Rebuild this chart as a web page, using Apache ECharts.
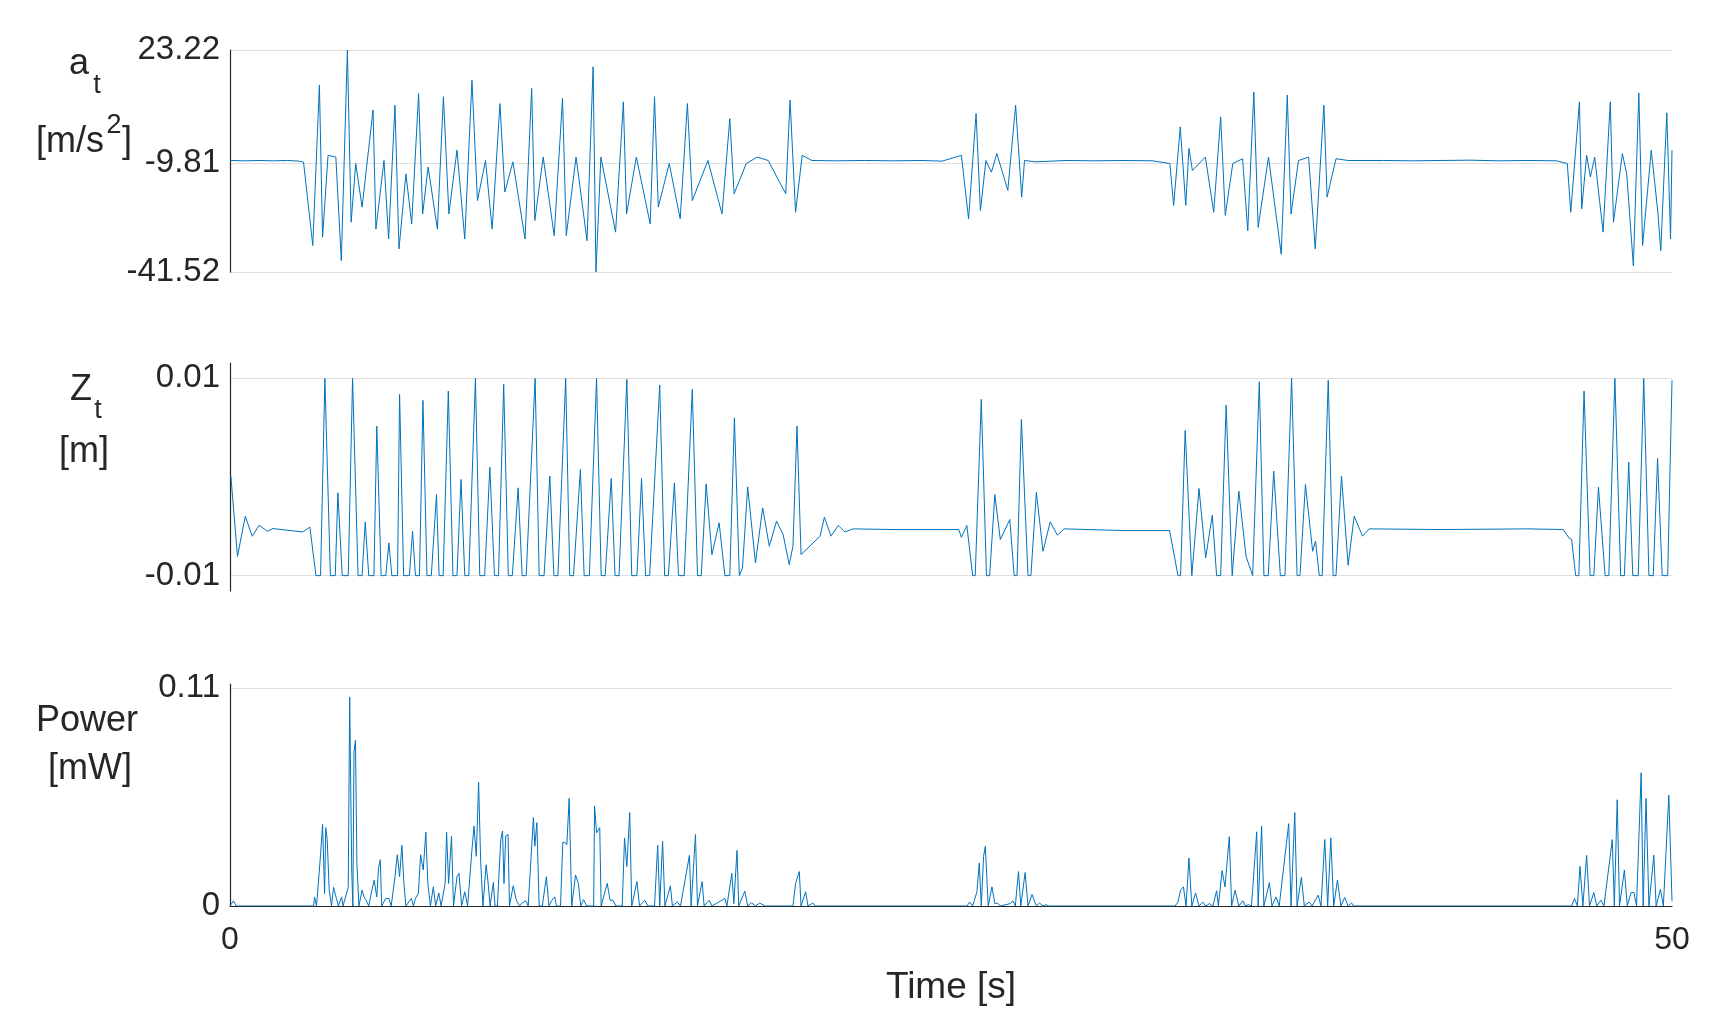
<!DOCTYPE html>
<html><head><meta charset="utf-8">
<script src="https://cdn.jsdelivr.net/npm/echarts@6/dist/echarts.min.js"></script>
<style>html,body{margin:0;padding:0;background:#fff}#c{width:1720px;height:1030px}</style>
</head><body><div id="c"></div>
<script>
const accData = [[0,-9.0],[0.5,-9.1],[1,-9.0],[1.5,-9.1],[2,-9.0],[2.4,-9.2],[2.55,-9.5],
[2.87,-33.8],[3.10,13.0],[3.21,-31.4],[3.40,-7.5],[3.67,-8.0],[3.86,-38.2],[4.07,23.2],[4.20,-27.0],[4.36,-9.9],[4.58,-22.6],[4.96,5.7],[5.06,-29.0],[5.34,-9.0],[5.50,-31.9],[5.72,7.1],[5.86,-34.8],[6.10,-12.9],[6.30,-27.5],[6.54,10.5],[6.68,-24.6],[6.87,-10.9],[7.19,-29.0],[7.40,9.6],[7.59,-24.6],[7.87,-6.0],[8.14,-31.9],[8.39,14.4],[8.58,-20.7],[8.86,-9.0],[9.09,-29.0],[9.36,7.6],[9.53,-18.2],[9.81,-9.4],[10.23,-31.9],[10.46,12.0],[10.57,-26.5],[10.86,-8.0],[11.24,-30.9],[11.53,9.1],[11.66,-30.9],[12.00,-8.0],[12.38,-32.4],[12.59,18.3],[12.69,-41.5],[12.86,-8.0],[13.37,-29.9],[13.64,8.1],[13.75,-24.6],[14.09,-8.0],[14.57,-27.5],[14.72,9.6],[14.85,-22.6],[15.23,-9.9],[15.61,-26.0],[15.86,7.6],[16.03,-20.7],[16.57,-9.0],[17.06,-24.6],[17.33,3.2],[17.48,-18.7],[17.90,-9.9],[18.28,-8.0],[18.66,-9.0],[19.27,-18.7],[19.42,8.6],[19.61,-24.1],[19.84,-7.5],[20.18,-9.0],
[21,-9.1],[22,-9.0],[23,-9.1],[24,-9.0],[24.69,-9.2],[25.36,-7.5],[25.61,-26.0],[25.87,4.7],[26.02,-23.6],[26.21,-9.0],[26.40,-12.4],[26.59,-7.0],[26.97,-17.7],[27.24,7.1],[27.36,-8.0],[27.45,-19.7],[27.55,-9.0],[27.93,-9.4],
[29,-9.0],[30,-9.1],[31,-9.0],[32,-9.1],[32.59,-9.9],[32.72,-22.1],[32.95,0.8],[33.14,-22.1],[33.25,-5.5],[33.37,-11.9],[33.82,-8.0],[34.11,-24.1],[34.35,3.7],[34.51,-25.0],[34.77,-9.9],[35.11,-8.5],[35.29,-29.5],[35.50,11.0],[35.65,-28.5],[36.01,-8.0],[36.45,-36.3],[36.66,10.1],[36.79,-24.6],[37.05,-9.0],[37.40,-8.0],[37.63,-34.8],[37.93,7.1],[38.04,-19.7],[38.35,-8.5],[38.77,-9.0],
[40,-9.0],[41,-9.1],[42,-9.0],[43,-8.9],[44,-9.1],[45,-9.0],[46,-9.1],[46.37,-9.9],[46.49,-24.1],[46.79,8.1],[46.87,-23.1],[47.04,-7.5],[47.17,-13.8],[47.32,-8.0],[47.61,-29.9],[47.86,8.1],[47.97,-27.0],[48.28,-7.0],[48.43,-12.9],[48.66,-39.7],[48.85,10.7],[48.98,-33.8],[49.28,-6.0],[49.51,-24.1],[49.61,-35.3],[49.82,4.9],[49.95,-31.9],[50.0,-6.0]];

const zData = [[0.03,0.0001],[0.12,-0.00313],[0.26,-0.00804],[0.53,-0.00398],[0.77,-0.00601],[1.01,-0.00489],[1.29,-0.0055],[1.49,-0.00523],[2.52,-0.00557],[2.77,-0.00509],[2.98,-0.01],[3.14,-0.01],[3.29,0.01],[3.48,-0.01],[3.65,-0.01],[3.74,-0.00161],[3.89,-0.01],[4.10,-0.01],[4.25,0.01],[4.44,-0.01],[4.58,-0.01],[4.69,-0.00455],[4.81,-0.01],[4.99,-0.01],[5.09,0.00516],[5.24,-0.01],[5.40,-0.01],[5.51,-0.00668],[5.61,-0.01],[5.81,-0.01],[5.88,0.00838],[6.02,-0.01],[6.22,-0.01],[6.33,-0.0055],[6.43,-0.01],[6.57,-0.01],[6.69,0.00777],[6.83,-0.01],[6.98,-0.01],[7.16,-0.00178],[7.25,-0.01],[7.39,-0.01],[7.57,0.00871],[7.73,-0.01],[7.87,-0.01],[8.01,-0.00025],[8.14,-0.01],[8.28,-0.01],[8.51,0.01],[8.66,-0.01],[8.83,-0.01],[9.01,0.001],[9.17,-0.01],[9.31,-0.01],[9.49,0.00939],[9.65,-0.01],[9.79,-0.01],[9.99,-0.0011],[10.13,-0.01],[10.27,-0.01],[10.58,0.01],[10.72,-0.01],[10.89,-0.01],[11.09,0.0001],[11.23,-0.01],[11.37,-0.01],[11.64,0.01],[11.78,-0.01],[11.91,-0.01],[12.15,0.00076],[12.28,-0.01],[12.46,-0.01],[12.71,0.01],[12.87,-0.01],[13.01,-0.01],[13.22,-0.00015],[13.35,-0.01],[13.49,-0.01],[13.76,0.0099],[13.93,-0.01],[14.11,-0.01],[14.27,-0.00015],[14.41,-0.01],[14.55,-0.01],[14.90,0.00932],[15.07,-0.01],[15.20,-0.01],[15.41,-0.00059],[15.55,-0.01],[15.75,-0.01],[16.03,0.00888],[16.21,-0.01],[16.34,-0.01],[16.51,-0.00069],[16.71,-0.00787],[16.96,-0.00465],[17.16,-0.01],[17.33,-0.01],[17.49,0.006],[17.66,-0.01],[17.77,-0.00922],[17.95,-0.001],[18.22,-0.00871],[18.47,-0.00313],[18.70,-0.00702],[18.95,-0.00448],[19.18,-0.00584],[19.39,-0.00888],[19.52,-0.00702],[19.66,0.00516],[19.80,-0.00787],
[20.46,-0.006],[20.61,-0.00408],[20.84,-0.006],[21.09,-0.00492],[21.32,-0.00557],[21.61,-0.00526],[23,-0.00533],[25.27,-0.00533],[25.36,-0.00611],[25.55,-0.00492],[25.75,-0.01],[25.84,-0.01],[26.05,0.00787],[26.23,-0.01],[26.34,-0.01],[26.52,-0.00178],[26.71,-0.00634],[27.04,-0.00431],[27.19,-0.01],[27.29,-0.01],[27.44,0.00584],[27.67,-0.01],[27.77,-0.01],[27.96,-0.00154],[28.19,-0.00753],[28.44,-0.00455],[28.69,-0.0059],[28.92,-0.00526],[31,-0.00543],[32.58,-0.00543],[32.87,-0.01],[32.96,-0.01],[33.12,0.00472],[33.35,-0.01],[33.60,-0.00117],[33.83,-0.00821],[34.06,-0.00387],[34.21,-0.01],[34.35,-0.01],[34.54,0.00729],[34.75,-0.01],[34.98,-0.00144],[35.23,-0.00804],[35.46,-0.01],[35.69,0.00966],[35.85,-0.01],[36.0,-0.01],[36.19,0.00059],[36.42,-0.01],[36.58,-0.01],[36.81,0.01],[37.0,-0.01],[37.10,-0.01],[37.29,-0.00076],[37.54,-0.00753],[37.64,-0.00651],[37.77,-0.01],[37.87,-0.01],[38.08,0.0098],[38.25,-0.01],[38.35,-0.01],[38.54,0.0001],[38.77,-0.00895],[38.98,-0.00398],[39.27,-0.006],[39.50,-0.00526],[42,-0.00533],[45,-0.00526],[46.23,-0.00533],[46.43,-0.00618],[46.52,-0.00634],[46.66,-0.01],[46.77,-0.01],[46.95,0.00871],[47.16,-0.01],[47.29,-0.01],[47.45,-0.00103],[47.68,-0.01],[47.81,-0.01],[48.02,0.01],[48.22,-0.01],[48.35,-0.01],[48.50,0.00151],[48.64,-0.01],[48.83,-0.01],[49.02,0.01],[49.20,-0.01],[49.35,-0.01],[49.50,0.00188],[49.66,-0.01],[49.85,-0.01],[50.0,0.0098]];

const powerData = [[0,0],[0.12,0.0026],[0.22,0],[2.9,0],[2.93,0.0046],[3.00,0],[3.14,0.0259],[3.21,0.0413],[3.28,0.0063],[3.32,0.0396],[3.37,0.0336],[3.44,0.008],[3.52,0],[3.59,0.0094],[3.69,0.0038],[3.76,0],[3.87,0.0046],[3.92,0],[4.10,0.0094],[4.15,0.1055],[4.22,0.0182],[4.26,0],[4.30,0.0779],[4.35,0.0839],[4.40,0.0217],[4.47,0],[4.58,0.008],[4.65,0.0046],[4.72,0.0029],[4.81,0],[4.92,0.008],[5.00,0.0131],[5.09,0.0046],[5.15,0.0191],[5.21,0.0234],[5.26,0],[5.40,0.0038],[5.51,0.0038],[5.59,0],[5.72,0.0148],[5.80,0.0259],[5.88,0.0148],[5.96,0.0307],[6.03,0.0114],[6.10,0],[6.29,0.0038],[6.36,0],[6.43,0.0038],[6.53,0.0063],[6.61,0.0259],[6.70,0.0182],[6.79,0.0373],[6.86,0.0114],[6.95,0],[7.05,0.0097],[7.13,0],[7.24,0.0066],[7.32,0],[7.46,0.0114],[7.51,0.0373],[7.58,0.0114],[7.68,0.0353],[7.75,0],[7.87,0.0148],[7.94,0.0165],[8.03,0],[8.14,0.0072],[8.24,0],[8.38,0.0268],[8.46,0.0404],[8.54,0.0251],[8.62,0.0626],[8.69,0.0234],[8.77,0],[8.88,0.0208],[8.94,0.0131],[9.02,0],[9.13,0.0119],[9.19,0],[9.27,0],[9.39,0.0336],[9.45,0.0379],[9.50,0.0114],[9.56,0.0353],[9.64,0.0361],[9.69,0],[9.82,0.0102],[9.93,0.0029],[10.04,0],[10.13,0.0015],[10.26,0.0026],[10.34,0],[10.52,0.0447],[10.57,0.0302],[10.64,0.0421],[10.72,0],[10.83,0],[10.97,0.0148],[11.06,0],[11.16,0.0029],[11.26,0.0046],[11.32,0],[11.46,0],[11.54,0.0322],[11.61,0.0322],[11.68,0.031],[11.76,0.0544],[11.85,0],[11.98,0.0157],[12.08,0.0114],[12.16,0],[12.26,0.0032],[12.37,0],[12.61,0],[12.64,0.0506],[12.71,0.037],[12.82,0.0396],[12.87,0],[13.08,0.0114],[13.18,0.0029],[13.28,0.0029],[13.38,0],[13.60,0],[13.68,0.0344],[13.76,0.02],[13.86,0.0472],[13.93,0],[14.11,0.0123],[14.20,0],[14.38,0.0029],[14.49,0],[14.72,0],[14.83,0.0307],[14.90,0],[15.00,0.0327],[15.08,0],[15.27,0.0102],[15.34,0],[15.51,0.002],[15.62,0],[15.93,0.0256],[15.99,0],[16.14,0.0361],[16.21,0],[16.37,0.0123],[16.44,0],[16.62,0.0029],[16.71,0],[17.16,0.0038],[17.23,0],[17.40,0.0165],[17.47,0.0012],[17.58,0.0281],[17.64,0],[17.85,0.0075],[17.95,0],[18.08,0.0017],[18.22,0],[18.36,0.0015],[18.56,0],[19.52,0],[19.61,0.0114],[19.74,0.0174],[19.80,0],[19.96,0.0072],[20.04,0],[20.21,0.0015],[20.29,0],
[25.55,0],[25.65,0.002],[25.75,0],[25.90,0.0072],[25.98,0.0217],[26.05,0],[26.13,0.0251],[26.19,0.0302],[26.29,0],[26.42,0.0097],[26.52,0.0012],[26.61,0.0015],[26.71,0],[27.05,0.0012],[27.15,0.0026],[27.23,0],[27.34,0.0174],[27.42,0],[27.57,0.0169],[27.67,0],[27.81,0.0058],[27.86,0.0058],[27.96,0],[28.07,0.0015],[28.19,0],[28.31,0.0007],[28.38,0],
[32.77,0],[32.87,0.002],[32.96,0.008],[33.06,0.0097],[33.15,0],[33.25,0.0242],[33.35,0],[33.48,0.0066],[33.60,0],[33.73,0.002],[33.83,0],[33.96,0.0012],[34.08,0],[34.21,0.0077],[34.27,0],[34.40,0.0179],[34.50,0.0097],[34.65,0.035],[34.73,0],[34.85,0.0080],[34.98,0],[35.12,0.0026],[35.21,0],[35.31,0.0007],[35.42,0],[35.60,0.0375],[35.65,0],[35.77,0.0404],[35.85,0],[36.04,0.0118],[36.13,0],[36.27,0.0046],[36.38,0],[36.71,0.0416],[36.79,0],[36.92,0.0472],[37.0,0],[37.15,0.0145],[37.25,0],[37.42,0.002],[37.52,0],[37.73,0.0055],[37.83,0],[37.96,0.0336],[38.06,0],[38.17,0.0344],[38.27,0],[38.40,0.0131],[38.52,0],[38.65,0.0043],[38.77,0],[38.89,0.0015],[38.96,0],
[46.52,0],[46.62,0.0038],[46.72,0],[46.81,0.02],[46.91,0],[47.04,0.0256],[47.14,0],[47.29,0.0068],[47.39,0],[47.54,0.0029],[47.64,0],[47.93,0.0336],[48.0,0],[48.10,0.0537],[48.18,0],[48.35,0.0182],[48.45,0],[48.58,0.0068],[48.68,0.0068],[48.77,0],[48.93,0.0673],[49.0,0],[49.10,0.0544],[49.20,0],[49.37,0.0257],[49.45,0],[49.60,0.0084],[49.70,0],[49.89,0.0561],[50.0,0.0026]];

const accTicks = [-41.52, -9.81, 23.22];
const zTicks = [-0.01, 0.01];
const powerTicks = [0, 0.11];
const timeTicks = [0, 50];

const FONT = 'Liberation Sans';
const TXT = '#262626';
const BLUE = '#0072BD';
const fmt = v => v === 0 ? '0' : v.toFixed(2);

const grids = [
  {left: 230, right: 48, top: 50, height: 222},
  {left: 230, right: 48, top: 363, height: 228},
  {left: 230, right: 48, top: 684, height: 222}
];
const yRanges = [[-41.52, 23.22], [-0.01156, 0.01156], [0, 0.1122]];
const yTicks = [accTicks, zTicks, powerTicks];

function t(text, x, y, size) {
  return {type: 'text', x: x, y: y, style: {text: text, fill: TXT, font: size + 'px ' + FONT, textAlign: 'center', textVerticalAlign: 'middle'}};
}

const chart = echarts.init(document.getElementById('c'), null, {renderer: 'canvas'});
chart.setOption({
  animation: false,
  backgroundColor: '#fff',
  grid: grids,
  xAxis: grids.map((g, i) => ({
    gridIndex: i, type: 'value', min: 0, max: 50,
    show: i === 2,
    axisLine: {show: i === 2, onZero: false, lineStyle: {color: TXT, width: 1.2}},
    axisTick: {show: false},
    splitLine: {show: false},
    axisLabel: {show: i === 2, customValues: timeTicks, fontFamily: FONT, fontSize: 32, color: TXT, margin: 18},
    name: i === 2 ? 'Time [s]' : '', nameLocation: 'middle', nameGap: 63,
    nameTextStyle: {fontFamily: FONT, fontSize: 37, color: TXT}
  })),
  yAxis: grids.map((g, i) => ({
    gridIndex: i, type: 'value', min: yRanges[i][0], max: yRanges[i][1],
    axisLine: {show: true, lineStyle: {color: TXT, width: 1.2}},
    axisTick: {show: false, customValues: yTicks[i]},
    splitLine: {show: true, lineStyle: {color: '#dedede', width: 1.2}},
    axisLabel: {customValues: yTicks[i], formatter: fmt, fontFamily: FONT, fontSize: 33, color: TXT, margin: 10}
  })),
  graphic: [
    t('a', 79, 64, 36), t('t', 97, 86, 27),
    t('[m/s', 70, 142, 36), t('2', 114, 126, 27), t(']', 127, 142, 36),
    t('Z', 81, 390, 36), t('t', 98, 411, 27),
    t('[m]', 84, 452, 36),
    t('Power', 87, 721, 36),
    t('[mW]', 90, 769, 36)
  ],
  series: [accData, zData, powerData].map((d, i) => ({
    type: 'line', xAxisIndex: i, yAxisIndex: i, data: d, showSymbol: false,
    sampling: 'none', lineStyle: {color: BLUE, width: 1}, itemStyle: {color: BLUE}
  }))
});
</script></body></html>
